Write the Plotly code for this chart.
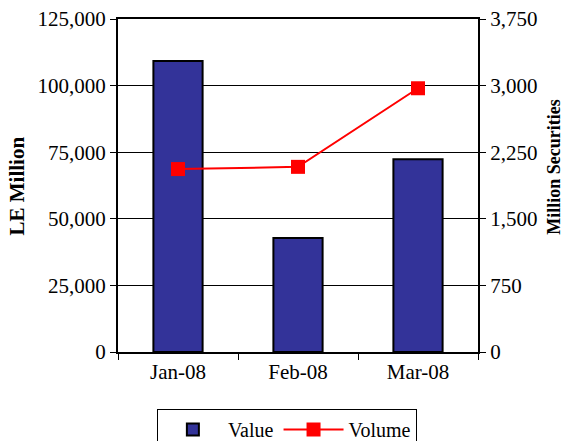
import plotly.graph_objects as go

months = ["Jan-08", "Feb-08", "Mar-08"]
value_le_million = [109200, 42800, 72400]
volume_million_securities = [2060, 2085, 2970]

font = "Liberation Serif, Times New Roman, serif"

fig = go.Figure()
fig.add_trace(go.Bar(
    x=months, y=value_le_million, name="Value",
    marker=dict(color="#333399", line=dict(color="black", width=2)),
    width=0.41, yaxis="y",
))
fig.add_trace(go.Scatter(
    x=months, y=volume_million_securities, name="Volume", yaxis="y2",
    mode="lines+markers",
    line=dict(color="#ff0000", width=2),
    marker=dict(symbol="square", size=14, color="#ff0000"),
))

fig.update_layout(
    width=564, height=441,
    margin=dict(l=118, r=86, t=19, b=89, autoexpand=False),
    paper_bgcolor="white", plot_bgcolor="white",
    font=dict(family=font, size=21, color="black"),
    showlegend=True,
    legend=dict(
        orientation="h", x=0.108, xanchor="left",
        yref="container", y=(441 - 409) / 441, yanchor="top",
        bordercolor="black", borderwidth=1, font=dict(size=20),
        itemwidth=60, traceorder="normal",
    ),
    xaxis=dict(
        type="category", showline=True, linecolor="black", linewidth=2,
        mirror=True, ticks="outside", tickson="boundaries", ticklen=6,
        tickcolor="black", showgrid=False, automargin=False,
    ),
    yaxis=dict(
        range=[0, 125000], dtick=25000, tickformat=",d",
        showline=True, linecolor="black", linewidth=2,
        ticks="outside", ticklen=6, tickcolor="black",
        showgrid=True, gridcolor="black", gridwidth=1,
        zeroline=False, automargin=False,
    ),
    yaxis2=dict(
        range=[0, 3750], dtick=750, tickformat=",d",
        overlaying="y", side="right",
        showline=True, linecolor="black", linewidth=2,
        ticks="outside", ticklen=6, tickcolor="black",
        showgrid=False, zeroline=False, automargin=False,
    ),
    annotations=[
        dict(text="<b>LE Million</b>", textangle=-90, showarrow=False,
             xref="paper", yref="paper", x=-0.2806, y=0.5, xanchor="center", yanchor="middle",
             font=dict(size=21)),
        dict(text="<b>Million Securities</b>", textangle=-90, showarrow=False,
             xref="paper", yref="paper", x=1.211, y=0.556, xanchor="center", yanchor="middle",
             font=dict(size=18)),
    ],
)

fig.write_html(
    "out.html",
    config={"displayModeBar": False},
    post_script="document.body.style.margin='0px';document.body.style.overflow='hidden';",
)
